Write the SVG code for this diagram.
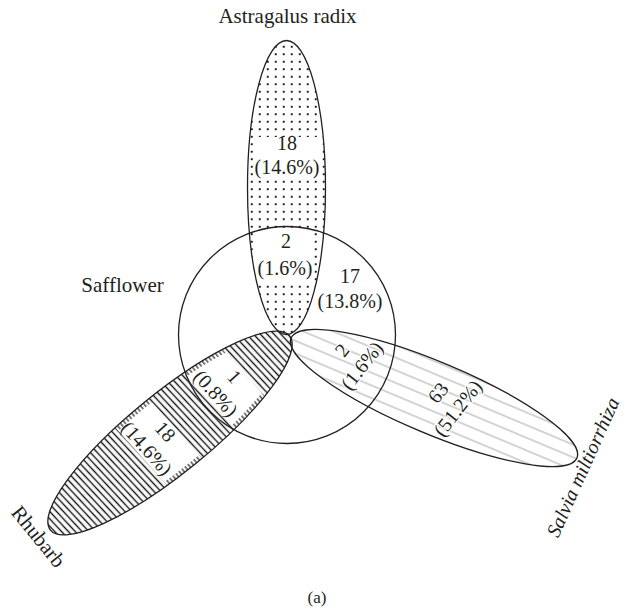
<svg xmlns="http://www.w3.org/2000/svg" width="628" height="616" viewBox="0 0 628 616">
<style>
.t{font-family:"Liberation Serif","Times New Roman",serif;fill:#231f20;text-anchor:middle}
.n{font-size:20px}
.lb{font-size:21px}
.halo{stroke:#fff;stroke-width:2.5;paint-order:stroke;stroke-linejoin:round}
.ol{fill:none;stroke:#231f20;stroke-width:1.3}
</style>
<defs>
<pattern id="dots" patternUnits="userSpaceOnUse" x="2.8" y="0.8" width="8" height="7.5">
<rect x="0" y="0" width="1.9" height="1.9" fill="#111"/>
</pattern>
<pattern id="hatch" patternUnits="userSpaceOnUse" width="5" height="10" patternTransform="rotate(-43)">
<line x1="2.5" y1="0" x2="2.5" y2="10" stroke="#111" stroke-width="1.4"/>
</pattern>
<pattern id="hlines" patternUnits="userSpaceOnUse" x="0" y="333.5" width="20" height="11.67">
<line x1="0" y1="5.8" x2="20" y2="5.8" stroke="#bdbdbd" stroke-width="1.3"/>
</pattern>
<pattern id="vticks" patternUnits="userSpaceOnUse" width="3.8" height="10">
<line x1="1.9" y1="0" x2="1.9" y2="10" stroke="#111" stroke-width="1.1"/>
</pattern>
<clipPath id="astClip"><ellipse cx="286.5" cy="187.5" rx="39" ry="147"/></clipPath>
<clipPath id="rhuClip"><ellipse cx="0" cy="0" rx="154" ry="40" transform="translate(170,433) rotate(-39.07)"/></clipPath>
<clipPath id="bandClip">
<rect x="-80" y="-22" width="160" height="44" transform="translate(225,385) rotate(48)"/>
<rect x="-80" y="-22" width="160" height="44" transform="translate(156,440) rotate(48)"/>
</clipPath>
</defs>

<g id="node-salvia">
<ellipse cx="0" cy="0" rx="155" ry="36" transform="translate(434,398) rotate(22.76)" fill="url(#hlines)"/>
</g>

<g id="node-astragalus">
<g clip-path="url(#astClip)">
<rect x="240" y="30" width="100" height="320" fill="url(#dots)"/>
<rect x="254" y="137" width="68" height="43" fill="#fff"/>
<rect x="254" y="233" width="60" height="49" fill="#fff"/>
</g>
</g>

<g id="node-rhubarb">
<g clip-path="url(#rhuClip)">
<rect x="20" y="300" width="300" height="260" fill="url(#hatch)"/>
<g clip-path="url(#bandClip)">
<rect x="20" y="300" width="300" height="260" fill="#fff"/>
<ellipse cx="0" cy="0" rx="154" ry="40" transform="translate(170,433) rotate(-39.07)" fill="none" stroke="url(#vticks)" stroke-width="9"/>
</g>
</g>
</g>

<g id="outlines">
<circle class="ol" cx="287" cy="335" r="108.5"/>
<ellipse class="ol" cx="286.5" cy="187.5" rx="39" ry="147"/>
<ellipse class="ol" cx="0" cy="0" rx="154" ry="40" transform="translate(170,433) rotate(-39.07)"/>
<ellipse class="ol" cx="0" cy="0" rx="155" ry="36" transform="translate(434,398) rotate(22.76)"/>
</g>

<g id="connectors"></g>

<g id="labels">
<text class="t lb" x="287.5" y="23">Astragalus radix</text>
<text class="t lb" x="122.5" y="292">Safflower</text>
<text class="t lb" transform="translate(33,541) rotate(51)" x="0" y="0">Rhubarb</text>
<text class="t" transform="translate(589,470) rotate(-65.8)" x="0" y="0" font-size="20" font-style="italic">Salvia miltiorrhiza</text>
<text class="t" x="317" y="603" font-size="17">(a)</text>

<text class="t n" x="287" y="150">18</text>
<text class="t n" x="287" y="174">(14.6%)</text>
<text class="t n" x="286" y="248">2</text>
<text class="t n" x="285" y="275">(1.6%)</text>
<text class="t n" x="350" y="283">17</text>
<text class="t n" x="350" y="308">(13.8%)</text>

<g transform="translate(225,385) rotate(48)">
<text class="t n" x="0" y="-5.8">1</text>
<text class="t n" x="0" y="19.2">(0.8%)</text>
</g>
<g transform="translate(156,440) rotate(48)">
<text class="t n" x="0" y="-5.8">18</text>
<text class="t n" x="0" y="19.2">(14.6%)</text>
</g>
<g transform="translate(352,358) rotate(-52)">
<text class="t n halo" x="0" y="-5.8">2</text>
<text class="t n halo" x="0" y="19.2">(1.6%)</text>
</g>
<g transform="translate(448,400.5) rotate(-52)">
<text class="t n halo" x="0" y="-5.8">63</text>
<text class="t n halo" x="0" y="19.2">(51.2%)</text>
</g>
</g>
</svg>
